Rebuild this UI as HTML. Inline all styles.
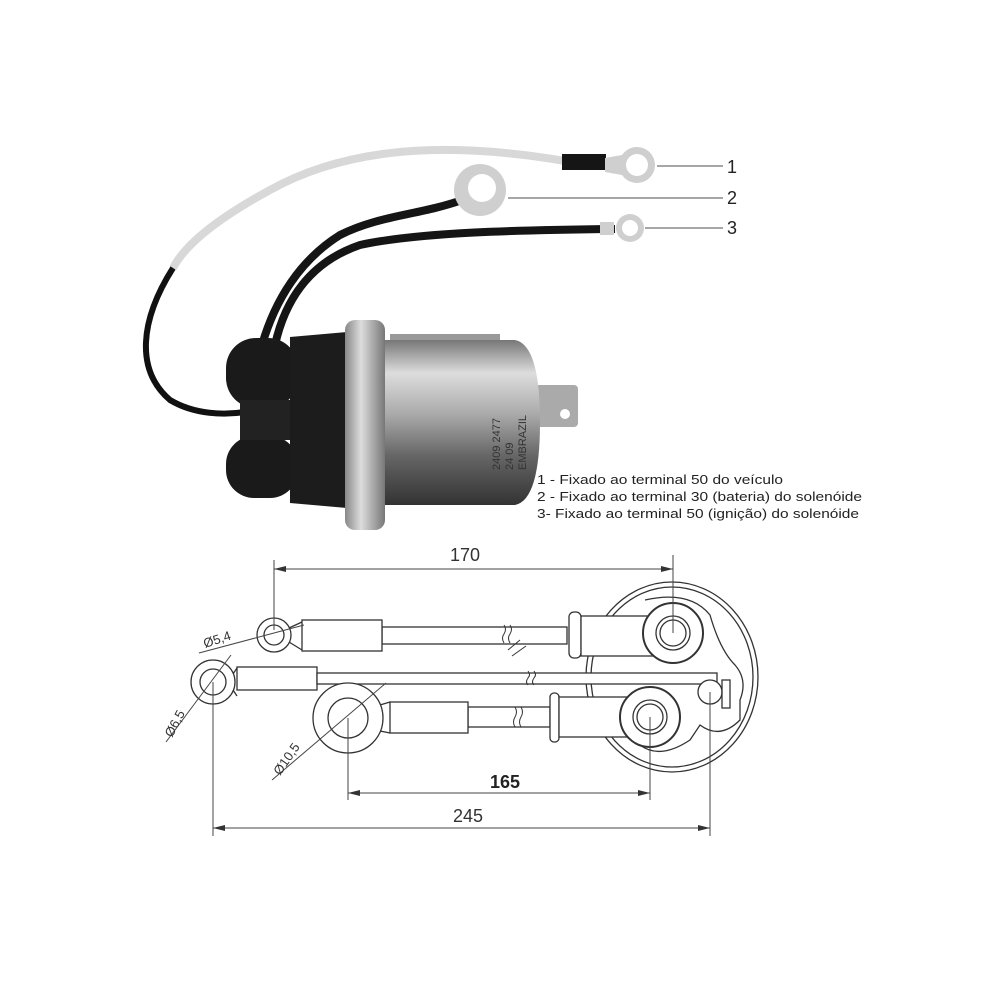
<!DOCTYPE html>
<html><head><meta charset="utf-8"><style>
html,body{margin:0;padding:0;background:#fff;}
svg{display:block}
text{font-family:"Liberation Sans",Arial,sans-serif;}
</style></head><body>
<svg width="1000" height="1000" viewBox="0 0 1000 1000" xmlns="http://www.w3.org/2000/svg">
<defs>
<linearGradient id="cyl" x1="0" y1="0" x2="0" y2="1">
<stop offset="0" stop-color="#777"/><stop offset="0.2" stop-color="#ddd"/><stop offset="0.45" stop-color="#aaa"/><stop offset="0.7" stop-color="#666"/><stop offset="1" stop-color="#333"/>
</linearGradient>
<linearGradient id="fl" x1="0" y1="0" x2="1" y2="0">
<stop offset="0" stop-color="#888"/><stop offset="0.4" stop-color="#ddd"/><stop offset="1" stop-color="#777"/>
</linearGradient>
</defs>
<rect width="1000" height="1000" fill="#fff"/>

<!-- PHOTO: wires -->
<path d="M565,161 C470,145 360,140 270,190 C215,220 185,245 173,268" fill="none" stroke="#d8d8d8" stroke-width="8"/>
<path d="M173,268 C140,320 135,370 170,400 C195,415 225,415 245,412" fill="none" stroke="#111" stroke-width="6"/>
<path d="M462,200 C420,215 380,215 340,235 C300,260 275,300 262,345" fill="none" stroke="#151515" stroke-width="8"/>
<path d="M615,229 C520,230 420,232 360,245 C310,262 285,300 275,345" fill="none" stroke="#151515" stroke-width="8"/>
<!-- ring 1 -->
<rect x="562" y="154" width="44" height="16" fill="#151515"/>
<circle cx="637" cy="165" r="18" fill="#cfcfcf"/><circle cx="637" cy="165" r="11" fill="#fff"/>
<path d="M605,158 L622,155 L622,175 L605,172Z" fill="#cfcfcf"/>
<!-- ring 2 -->
<circle cx="480" cy="190" r="26" fill="#cfcfcf"/><circle cx="482" cy="188" r="14" fill="#fff"/>
<!-- ring 3 -->
<circle cx="630" cy="228" r="14" fill="#cfcfcf"/><circle cx="630" cy="228" r="8" fill="#fff"/>
<rect x="600" y="222" width="14" height="13" fill="#cfcfcf"/>
<!-- leader lines -->
<line x1="657" y1="166" x2="723" y2="166" stroke="#888" stroke-width="1.5"/>
<line x1="508" y1="198" x2="723" y2="198" stroke="#888" stroke-width="1.5"/>
<line x1="645" y1="228" x2="723" y2="228" stroke="#888" stroke-width="1.5"/>
<text x="727" y="173" font-size="18" fill="#222">1</text>
<text x="727" y="204" font-size="18" fill="#222">2</text>
<text x="727" y="234" font-size="18" fill="#222">3</text>

<!-- body -->
<rect x="226" y="338" width="72" height="70" rx="30" fill="#1a1a1a"/>
<rect x="226" y="436" width="72" height="62" rx="28" fill="#1a1a1a"/>
<rect x="240" y="400" width="55" height="40" fill="#222"/>
<path d="M290,337 L347,332 L347,508 L290,503Z" fill="#1c1c1c"/>
<rect x="390" y="334" width="110" height="12" fill="#999"/>
<rect x="530" y="385" width="48" height="42" rx="4" fill="#aaa"/>
<circle cx="565" cy="414" r="5" fill="#fff"/>
<path d="M383,340 L515,340 Q540,345 540,422 Q540,500 515,505 L383,505Z" fill="url(#cyl)"/>
<rect x="345" y="320" width="40" height="210" rx="10" fill="url(#fl)"/>
<g transform="translate(500,470) rotate(-90)" font-size="11" fill="#333">
<text x="0" y="0">2409 2477</text><text x="0" y="13">24 09</text><text x="0" y="26">EMBRAZIL</text></g>

<!-- caption -->
<text x="537" y="484" font-size="13" fill="#222" textLength="246" lengthAdjust="spacingAndGlyphs">1 - Fixado ao terminal 50 do veículo</text>
<text x="537" y="501" font-size="13" fill="#222" textLength="325" lengthAdjust="spacingAndGlyphs">2 - Fixado ao terminal 30 (bateria) do solenóide</text>
<text x="537" y="518" font-size="13" fill="#222" textLength="322" lengthAdjust="spacingAndGlyphs">3- Fixado ao terminal 50 (ignição) do solenóide</text>

<!-- DRAWING -->
<g stroke="#333" stroke-width="1.3" fill="none">
<ellipse cx="672" cy="677" rx="86" ry="95" fill="#fff"/>
<ellipse cx="672" cy="677" rx="81" ry="90"/>
<path d="M645,600 Q690,590 710,615 Q720,650 735,665 Q748,680 740,700 L740,720 Q720,740 700,725 L690,740 Q660,760 640,745" />
<rect x="237" y="667" width="80" height="23" fill="#fff"/>
<rect x="317" y="673" width="400" height="11" fill="#fff"/>
<rect x="382" y="627" width="185" height="17" fill="#fff"/>
<rect x="569" y="612" width="12" height="46" rx="5" fill="#fff"/>
<rect x="581" y="616" width="73" height="40" fill="#fff"/>
<circle cx="673" cy="633" r="30" fill="#fff" stroke-width="2"/>
<circle cx="673" cy="633" r="17"/><circle cx="673" cy="633" r="13"/>
<rect x="302" y="620" width="80" height="31" fill="#fff"/>
<circle cx="710" cy="692" r="12" fill="#fff"/>
<rect x="722" y="680" width="8" height="28"/>
<rect x="468" y="707" width="82" height="20" fill="#fff"/>
<rect x="550" y="693" width="9" height="49" rx="4" fill="#fff"/>
<rect x="559" y="697" width="72" height="40" fill="#fff"/>
<circle cx="650" cy="717" r="30" fill="#fff" stroke-width="2"/>
<circle cx="650" cy="717" r="17"/><circle cx="650" cy="717" r="13"/>
<rect x="390" y="702" width="78" height="31" fill="#fff"/>
<circle cx="274" cy="635" r="17" fill="#fff"/><circle cx="274" cy="635" r="10"/>
<path d="M289,628 L302,622 M289,642 L302,650"/>
<circle cx="213" cy="682" r="22" fill="#fff"/><circle cx="213" cy="682" r="13"/>
<path d="M233,674 L237,668 M233,690 L237,696"/>
<circle cx="348" cy="718" r="35" fill="#fff"/><circle cx="348" cy="718" r="20"/>
<path d="M380,705 L390,702 M380,731 L390,733"/>
<path d="M504,625 q3,4 0,9 q-3,4 0,9 M510,625 q3,4 0,9 q-3,4 0,9" stroke-width="1"/>
<path d="M508,650 L520,640 M512,656 L526,646" stroke-width="1"/>
<path d="M528,671 q3,4 0,7 q-3,4 0,7 M534,671 q3,4 0,7 q-3,4 0,7" stroke-width="1"/>
<path d="M515,707 q3,5 0,10 q-3,5 0,10 M521,707 q3,5 0,10 q-3,5 0,10" stroke-width="1"/>
</g>
<g stroke="#444" stroke-width="1" fill="none">
<line x1="274" y1="560" x2="274" y2="630"/><line x1="673" y1="555" x2="673" y2="633"/>
<line x1="274" y1="569" x2="673" y2="569"/>
<line x1="213" y1="682" x2="213" y2="836"/><line x1="710" y1="692" x2="710" y2="836"/>
<line x1="213" y1="828" x2="710" y2="828"/>
<line x1="348" y1="718" x2="348" y2="800"/><line x1="650" y1="717" x2="650" y2="800"/>
<line x1="348" y1="793" x2="650" y2="793"/>
<line x1="199" y1="653" x2="304" y2="625"/>
<line x1="166" y1="742" x2="231" y2="655"/>
<line x1="272" y1="780" x2="386" y2="683"/>
</g>
<g fill="#333">
<path d="M274,569 l12,-3 l0,6z"/><path d="M673,569 l-12,-3 l0,6z"/>
<path d="M213,828 l12,-3 l0,6z"/><path d="M710,828 l-12,-3 l0,6z"/>
<path d="M348,793 l12,-3 l0,6z"/><path d="M650,793 l-12,-3 l0,6z"/>
</g>
<text x="465" y="561" font-size="18" fill="#333" text-anchor="middle">170</text>
<text x="505" y="788" font-size="18" font-weight="bold" fill="#222" text-anchor="middle">165</text>
<text x="468" y="822" font-size="18" fill="#333" text-anchor="middle">245</text>
<text transform="translate(205,648) rotate(-18)" font-size="13" fill="#333">Ø5,4</text>
<text transform="translate(172,738) rotate(-62)" font-size="13" fill="#333">Ø6,5</text>
<text transform="translate(280,776) rotate(-55)" font-size="13" fill="#333">Ø10,5</text>
</svg>
</body></html>
